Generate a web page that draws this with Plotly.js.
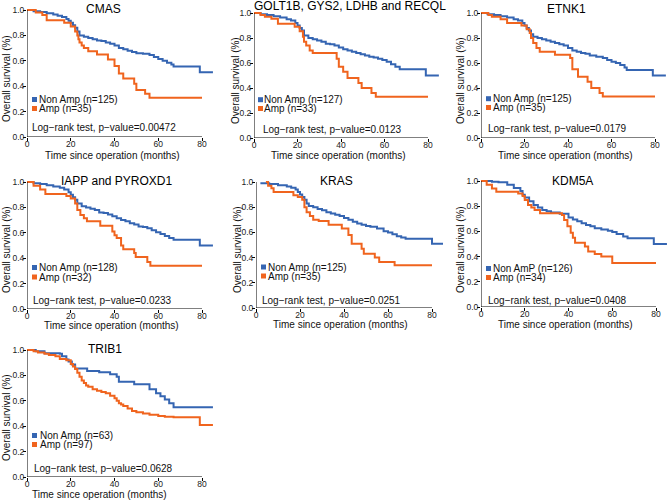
<!DOCTYPE html>
<html>
<head>
<meta charset="utf-8">
<script src="https://cdn.plot.ly/plotly-3.0.1.min.js"></script>
<style>html,body{margin:0;padding:0;background:#fff;}#chart{width:669px;height:504px;}</style>
</head>
<body>
<div id="chart"></div>
<script>
// ---------- Data ----------
var panelTitles = ["CMAS", "GOLT1B, GYS2, LDHB and RECQL", "ETNK1", "IAPP and PYROXD1", "KRAS", "KDM5A", "TRIB1"];
var nonAmpLabels = ["Non Amp (n=125)", "Non Amp (n=127)", "Non Amp (n=125)", "Non Amp (n=128)", "Non Amp (n=125)", "Non AmP (n=126)", "Non Amp (n=63)"];
var ampLabels = ["Amp (n=35)", "Amp (n=33)", "Amp (n=35)", "Amp (n=32)", "Amp (n=35)", "Amp (n=34)", "Amp (n=97)"];
var pValues = ["0.00472", "0.0123", "0.0179", "0.0233", "0.0251", "0.0408", "0.0628"];
var xTickVals = [0, 20, 40, 60, 80];
var yTickVals = [0, 0.2, 0.4, 0.6, 0.8, 1.0];
var yTickText = ["0.0", "0.2", "0.4", "0.6", "0.8", "1.0"];

// CMAS
var cmasNonT = [0,3,6,9,12,14,16,18,19,20,21,22,23,24,26,28,30,32,34,36,38,40,42,44,46,48,50,53,56,58,60,62,64,66,67,79,85];
var cmasNonS = [1,0.99,0.985,0.975,0.965,0.955,0.945,0.93,0.915,0.90,0.88,0.86,0.83,0.80,0.79,0.78,0.77,0.76,0.755,0.745,0.735,0.72,0.70,0.69,0.68,0.67,0.66,0.655,0.645,0.63,0.615,0.60,0.585,0.57,0.555,0.51,0.51];
var cmasAmpT = [0,4,7,9,17,20,22,23,23.5,24,25,26,28,32,37,40,42,44,49,50,54,56,80];
var cmasAmpS = [1,0.98,0.96,0.92,0.90,0.87,0.83,0.80,0.77,0.745,0.72,0.70,0.675,0.65,0.61,0.56,0.50,0.46,0.42,0.37,0.34,0.31,0.31];

// GOLT1B, GYS2, LDHB and RECQL
var golNonT = [0,3,6,9,12,15,17,19,20,21,22,23,25,27,29,31,33,35,37,39,41,43,45,47,49,51,53,55,57,59,61,63,65,67,79,85];
var golNonS = [1,0.99,0.985,0.975,0.965,0.95,0.94,0.92,0.90,0.88,0.86,0.82,0.80,0.79,0.78,0.77,0.755,0.75,0.74,0.725,0.71,0.70,0.69,0.68,0.67,0.66,0.65,0.645,0.635,0.625,0.61,0.59,0.57,0.55,0.50,0.50];
var golAmpT = [0,3,5,8,11,18.7,21,22.5,23,24,25.6,27,38,39,41,43,48,49.5,54,56,80];
var golAmpS = [1,0.985,0.97,0.955,0.915,0.89,0.855,0.81,0.77,0.74,0.70,0.68,0.635,0.57,0.53,0.48,0.44,0.40,0.36,0.33,0.33];

// ETNK1
var etnNonT = [0,3,6,9,12,15,17,19,20,21,22,23,24,26,28,30,32,34,36,38,40,42,44,46,48,50,53,56,58,60,62,64,66,67,79,85];
var etnNonS = [1,0.99,0.985,0.975,0.965,0.95,0.94,0.92,0.90,0.88,0.86,0.83,0.81,0.80,0.79,0.78,0.77,0.76,0.75,0.74,0.72,0.70,0.69,0.68,0.675,0.66,0.65,0.64,0.625,0.61,0.60,0.585,0.565,0.545,0.50,0.50];
var etnAmpT = [0,3.4,5,9,12,18.6,21,22.4,23,24,25.5,27,34,41,42,44.6,49,50.7,54.5,56,80];
var etnAmpS = [1,0.985,0.97,0.95,0.92,0.90,0.87,0.84,0.80,0.76,0.72,0.69,0.667,0.64,0.55,0.49,0.45,0.40,0.36,0.333,0.333];

// IAPP and PYROXD1
var iappNonT = [0,3,6,9,12,15,17,19,20,21,22,23,25,27,29,31,33,35,37,39,41,43,45,47,49,51,53,55,57,59,61,63,65,67,79,85];
var iappNonS = [1,0.99,0.985,0.975,0.965,0.955,0.94,0.92,0.90,0.88,0.86,0.83,0.81,0.80,0.79,0.78,0.76,0.755,0.745,0.73,0.715,0.70,0.69,0.675,0.665,0.65,0.645,0.635,0.62,0.605,0.59,0.575,0.56,0.545,0.50,0.50];
var iappAmpT = [0,3,6,8.4,18,20,22,23,24.4,26,27.4,33.5,39,40,41,43,44,49,49.7,55,56.4,80];
var iappAmpS = [1,0.97,0.94,0.905,0.89,0.87,0.83,0.78,0.74,0.715,0.69,0.655,0.61,0.58,0.56,0.50,0.47,0.44,0.41,0.37,0.34,0.34];

// KRAS
var krasNonT = [2,6,10,14,16,18,19,20,21,22,23,24,26,28,30,32,34,36,38,40,42,44,46,48,50,52,55,58,60,62,64,66,68,80,85];
var krasNonS = [0.99,0.985,0.975,0.965,0.955,0.94,0.92,0.90,0.88,0.86,0.83,0.81,0.80,0.785,0.775,0.76,0.75,0.74,0.73,0.715,0.70,0.685,0.67,0.66,0.65,0.645,0.63,0.61,0.60,0.585,0.57,0.56,0.55,0.51,0.51];
var krasAmpT = [4.5,5.5,7,8,17,19,21,22,23,24.5,26,28.5,33,39,42,43.5,48,49,54,56,63,80];
var krasAmpS = [1,0.97,0.95,0.92,0.895,0.88,0.86,0.80,0.76,0.73,0.70,0.69,0.66,0.63,0.58,0.51,0.47,0.43,0.40,0.365,0.34,0.34];

// KDM5A
var kdmNonT = [0,5,8,12,15,18,19,20,22,24,26,28,30,32,36,40,42,44,46,48,50,52,55,58,60,62,65,67,79,85];
var kdmNonS = [1,0.995,0.99,0.97,0.945,0.92,0.89,0.87,0.84,0.81,0.79,0.77,0.76,0.75,0.74,0.71,0.695,0.68,0.665,0.65,0.64,0.625,0.615,0.605,0.595,0.58,0.56,0.545,0.50,0.50];
var kdmAmpT = [0,2.6,5,7,17,19,20,21.5,23,24.5,27,37,38,39.5,41,42,43,47.5,49,52,55,60,80];
var kdmAmpS = [1,0.97,0.94,0.915,0.90,0.88,0.85,0.81,0.79,0.77,0.745,0.73,0.69,0.64,0.59,0.55,0.51,0.48,0.44,0.42,0.40,0.35,0.35];

// TRIB1
var tribNonT = [0,4,8,15,16,18,19,20.5,22,27.5,33,38,41,42,49,56,59,61,63,65,67,85];
var tribNonS = [1,0.99,0.975,0.97,0.95,0.925,0.91,0.885,0.855,0.835,0.825,0.81,0.79,0.75,0.73,0.69,0.66,0.635,0.61,0.58,0.55,0.55];
var tribAmpT = [0,3,5,8,10,13,15,18,20,21,22,23,24,25,26,27,28,30,32,34,36,38,40,41,42,43,44,46,48,50,53,56,60,63,67,79,85];
var tribAmpS = [1,0.99,0.98,0.97,0.96,0.95,0.93,0.92,0.89,0.87,0.85,0.82,0.79,0.76,0.74,0.72,0.71,0.69,0.68,0.67,0.66,0.64,0.62,0.60,0.58,0.57,0.56,0.54,0.52,0.51,0.50,0.49,0.48,0.475,0.47,0.41,0.41];

var nonT = [cmasNonT, golNonT, etnNonT, iappNonT, krasNonT, kdmNonT, tribNonT];
var nonS = [cmasNonS, golNonS, etnNonS, iappNonS, krasNonS, kdmNonS, tribNonS];
var ampT = [cmasAmpT, golAmpT, etnAmpT, iappAmpT, krasAmpT, kdmAmpT, tribAmpT];
var ampS = [cmasAmpS, golAmpS, etnAmpS, iappAmpS, krasAmpS, kdmAmpS, tribAmpS];

// ---------- Layout geometry (pixels) ----------
var W = 669, H = 504;
var BLUE = '#3565b2', ORANGE = '#f0641e';
var FONT = 'Liberation Sans, Arial, sans-serif';
// x at t=0, x at t=80, y at S=1.0, y at S=0
var boxes = [
  [27,202,10,137],[254,428,13,138],[481,655,13,138],
  [27,202,182,309],[256,432,182,308],[481,656,181,307],
  [27,202,350,477]
];
var titlePos = [[103,9],[350,6],[566,9],[116,181],[336,181],[572,181],[105,349]];
var xTitlePos = [[112,155],[338,155],[565,155],[111,325],[340,324],[565,324],[99,494]];
var yTitlePos = [[6,79],[235,80],[460,80],[6,250],[237,250],[460,249],[6,418]];
// square left, row1 y, row2 y, text left, logrank left, logrank y
var legPos = [
  [32,99.5,108.5,38,31,127],
  [258,99.7,108.5,262.5,262,129],
  [486,98.7,107.5,491.5,487,128],
  [32,267.5,277,38,32,300],
  [261,267,276,267,261,300],
  [486,268.5,277.5,492,487,300],
  [32,435.5,444.5,39,33,468]
];
var XMAX = 85.5, YMAX = 1.01;

function px(x){ return x / W; }
function py(y){ return 1 - y / H; }

var data = [], layout = {
  width: W, height: H,
  margin: {l:0, r:0, t:0, b:0},
  paper_bgcolor: '#fff', plot_bgcolor: '#fff',
  showlegend: false,
  font: {family: FONT, color: '#111'},
  annotations: [], shapes: []
};

for (var i = 0; i < 7; i++) {
  var n = i + 1, sfx = (n === 1 ? '' : String(n));
  var b = boxes[i];
  var ppm = (b[1] - b[0]) / 80;
  var rightPx = Math.min(b[0] + XMAX * ppm, W - 0.5);
  var topPx = b[2] - (YMAX - 1) * (b[3] - b[2]);
  layout['xaxis' + sfx] = {
    domain: [px(b[0]), px(rightPx)], range: [0, XMAX], anchor: 'y' + sfx,
    tickvals: xTickVals.slice(), ticks: 'outside', ticklen: 3, tickcolor: '#000',
    ticklabelstandoff: -4,
    showline: false, showgrid: false, zeroline: false,
    tickfont: {family: FONT, size: 8.5, color: '#222'}
  };
  layout['yaxis' + sfx] = {
    domain: [py(b[3]), py(topPx)], range: [0, YMAX], anchor: 'x' + sfx,
    tickvals: yTickVals.slice(), ticktext: yTickText.slice(), ticks: 'outside', ticklen: 3, tickcolor: '#000',
    ticklabelstandoff: -3,
    showline: false, showgrid: false, zeroline: false,
    tickfont: {family: FONT, size: 8.5, color: '#222'}
  };
  layout.shapes.push({type:'line', xref:'x'+sfx, yref:'y'+sfx, x0:0, x1:80, y0:0, y1:0, line:{color:'#000', width:1}});
  layout.shapes.push({type:'line', xref:'x'+sfx, yref:'y'+sfx, x0:0, x1:0, y0:0, y1:1, line:{color:'#000', width:1}});

  data.push({x: nonT[i], y: nonS[i], type:'scatter', mode:'lines', line:{shape:'hv', color:BLUE, width:2},
             xaxis:'x'+sfx, yaxis:'y'+sfx, name: nonAmpLabels[i]});
  data.push({x: ampT[i], y: ampS[i], type:'scatter', mode:'lines', line:{shape:'hv', color:ORANGE, width:2},
             xaxis:'x'+sfx, yaxis:'y'+sfx, name: ampLabels[i]});

  layout.annotations.push({xref:'paper', yref:'paper', x:px(titlePos[i][0]), y:py(titlePos[i][1]),
    xanchor:'center', yanchor:'middle', showarrow:false, text: panelTitles[i], font:{family:FONT, size:12, color:'#000'}});
  layout.annotations.push({xref:'paper', yref:'paper', x:px(xTitlePos[i][0]), y:py(xTitlePos[i][1]),
    xanchor:'center', yanchor:'middle', showarrow:false, text:'Time since operation (months)', font:{family:FONT, size:10, color:'#111'}});
  layout.annotations.push({xref:'paper', yref:'paper', x:px(yTitlePos[i][0]), y:py(yTitlePos[i][1]),
    xanchor:'center', yanchor:'middle', showarrow:false, textangle:-90, text:'Overall survival (%)', font:{family:FONT, size:10, color:'#111'}});
  var L = legPos[i];
  layout.shapes.push({type:'rect', xref:'paper', yref:'paper', x0:px(L[0]), x1:px(L[0]+5), y0:py(L[1]+2.5), y1:py(L[1]-2.5), fillcolor:BLUE, line:{width:0}});
  layout.shapes.push({type:'rect', xref:'paper', yref:'paper', x0:px(L[0]), x1:px(L[0]+5), y0:py(L[2]+2.5), y1:py(L[2]-2.5), fillcolor:ORANGE, line:{width:0}});
  layout.annotations.push({xref:'paper', yref:'paper', x:px(L[3]), y:py(L[1]), xanchor:'left', yanchor:'middle',
    showarrow:false, text: nonAmpLabels[i], font:{family:FONT, size:10, color:'#111'}, borderpad:0});
  layout.annotations.push({xref:'paper', yref:'paper', x:px(L[3]), y:py(L[2]), xanchor:'left', yanchor:'middle',
    showarrow:false, text: ampLabels[i], font:{family:FONT, size:10, color:'#111'}, borderpad:0});
  layout.annotations.push({xref:'paper', yref:'paper', x:px(L[4]), y:py(L[5]), xanchor:'left', yanchor:'middle',
    showarrow:false, text: 'Log\u2212rank test, p\u2212value=' + pValues[i], font:{family:FONT, size:10, color:'#111'}, borderpad:0});
}

Plotly.newPlot('chart', data, layout, {displayModeBar:false});
</script>
</body>
</html>
